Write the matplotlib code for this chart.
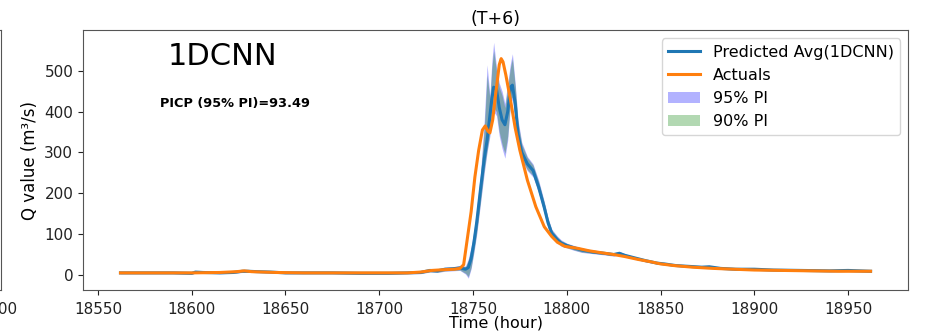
import matplotlib
matplotlib.use("Agg")
import matplotlib.pyplot as plt

# ---------------- data ----------------
act_t = [18562, 18580, 18600, 18615, 18624, 18628, 18632, 18645, 18660, 18680,
         18700, 18715, 18722, 18728, 18735, 18740, 18743, 18745, 18747, 18749,
         18751, 18753, 18755, 18756.5, 18758, 18759, 18760.5, 18762, 18764, 18765,
         18766, 18767.5, 18770, 18772.5, 18775, 18779, 18783.5, 18788, 18792, 18795,
         18799, 18806, 18812, 18819, 18825, 18831, 18838, 18845, 18850, 18857,
         18867, 18878, 18889, 18900, 18915, 18930, 18945, 18962]
act_v = [5, 5, 5, 6, 8, 10, 8, 6, 5, 5,
         5, 5, 7, 11, 13, 14, 16, 25, 90, 155,
         240, 305, 355, 365, 352, 348, 380, 440, 515, 530,
         522, 490, 428, 360, 305, 232, 167, 118, 94, 80,
         70, 65, 59, 54, 50, 45, 38, 32, 27, 23,
         19, 16, 14, 12, 11, 10, 9, 9]

pred_t = [18562, 18575, 18590, 18600, 18602, 18606, 18615, 18622, 18627, 18630,
          18635, 18642, 18650, 18660, 18675, 18690, 18705, 18715, 18722, 18727,
          18731, 18735, 18739, 18743, 18746, 18747.5, 18749, 18750.5, 18752, 18754,
          18756, 18757.5, 18759, 18760, 18761, 18762.5, 18764, 18765.5, 18767, 18768.5,
          18770, 18771, 18772.5, 18774, 18776, 18779, 18782, 18785, 18788, 18790,
          18792, 18795, 18797, 18800, 18804, 18808, 18814, 18820, 18825, 18828,
          18831, 18836, 18842, 18848, 18852, 18858, 18865, 18872, 18876, 18882,
          18890, 18900, 18910, 18925, 18940, 18950, 18962]
pred_v = [5, 5, 5, 4, 7, 6, 5, 6, 9, 9,
          8, 7, 5, 5, 5, 4, 4, 5, 6, 11,
          10, 14, 15, 17, 14, 18, 40, 80, 130, 210,
          285, 330, 390, 430, 460, 455, 410, 380, 368, 400,
          460, 465, 420, 345, 300, 272, 256, 215, 165, 128,
          102, 86, 78, 72, 66, 61, 56, 53, 50, 53,
          48, 42, 35, 29, 27, 23, 21, 19, 20, 16,
          14, 14, 12, 11, 10, 11, 9]
lo95 = [3, 3, 3, 2, 4, 4, 3, 4, 6, 6,
        6, 5, 3, 3, 3, 2, 2, 3, 3, 7,
        6, 9, 10, 11, 2, -8, 15, 55, 100, 175,
        250, 300, 340, 390, 400, 390, 340, 310, 286, 330,
        420, 430, 380, 310, 280, 255, 240, 200, 150, 115,
        92, 78, 70, 66, 60, 55, 52, 49, 46, 49,
        44, 39, 32, 27, 25, 21, 19, 17, 17, 14,
        12, 11, 10, 9, 8, 8, 7]
hi95 = [7, 7, 7, 6, 10, 8, 7, 8, 12, 12,
        10, 9, 7, 7, 7, 6, 6, 7, 9, 15,
        14, 19, 20, 23, 22, 40, 70, 110, 165, 250,
        380, 515, 440, 520, 570, 510, 470, 450, 420, 470,
        520, 542, 470, 380, 325, 290, 272, 232, 180, 140,
        112, 95, 86, 78, 72, 66, 60, 57, 54, 58,
        52, 45, 38, 31, 29, 25, 23, 21, 23, 18,
        16, 17, 14, 13, 12, 13, 11]
lo90 = [3.5, 3.5, 3.5, 2.5, 4.5, 4.5, 3.5, 4.5, 6.5, 6.5,
        6.5, 5.5, 3.5, 3.5, 3.5, 2.5, 2.5, 3.5, 3.5, 7.5,
        6.5, 10, 11, 12, 4, -4, 19, 60, 105, 180,
        258, 305, 348, 398, 410, 400, 350, 320, 298, 340,
        428, 436, 386, 315, 283, 258, 243, 203, 153, 117,
        94, 80, 72, 67, 61, 56, 53, 50, 47, 50,
        45, 40, 33, 27.5, 25.5, 21.5, 19.5, 17.5, 17.5, 14.5,
        12.5, 11.5, 10.5, 9.5, 8.5, 8.5, 7.5]
hi90 = [6.5, 6.5, 6.5, 5.5, 9.5, 7.5, 6.5, 7.5, 11.5, 11.5,
        9.5, 8.5, 6.5, 6.5, 6.5, 5.5, 5.5, 6.5, 8.5, 14,
        13, 18, 19, 22, 20, 35, 64, 104, 158, 242,
        360, 490, 432, 505, 550, 500, 460, 440, 410, 460,
        510, 530, 462, 374, 320, 287, 269, 228, 177, 138,
        110, 93, 84, 77, 71, 65, 59, 56, 53, 57,
        51, 44, 37, 30.5, 28.5, 24.5, 22.5, 20.5, 22, 17.5,
        15.5, 16, 13.5, 12.5, 11.5, 12.5, 10.5]

title_txt = "(T+6)"
model_name = "1DCNN"
picp_txt = "PICP (95% PI)=93.49"
x_label = "Time (hour)"
y_label = "Q value (m\u00b3/s)"

# ---------------- figure ----------------
plt.rcParams['font.family'] = ['DejaVu Sans']
fig = plt.figure(figsize=(9.25, 3.31), dpi=100)

# fragment of the neighbouring panel on the left edge
ax0 = fig.add_axes([-0.5, 0.1239, 0.5015, 0.784])
ax0.set_xlim(18254.3, 18504.3)
ax0.set_xticks([18500])
ax0.set_yticks([])
ax0.tick_params(axis='x', labelsize=11, colors='#222222', pad=5)
for s in ax0.spines.values():
    s.set_color('#555555')

ax = fig.add_axes([0.0897, 0.1239, 0.892, 0.784])
f95 = ax.fill_between(pred_t, lo95, hi95, color='blue', alpha=0.3, linewidth=0, label='95% PI')
f90 = ax.fill_between(pred_t, lo90, hi90, color='green', alpha=0.3, linewidth=0, label='90% PI')
lp, = ax.plot(pred_t, pred_v, color='#1f77b4', lw=2.2, label='Predicted Avg(1DCNN)')
la, = ax.plot(act_t, act_v, color='#ff7f0e', lw=2.2, label='Actuals')

ax.set_xticks([18550, 18600, 18650, 18700, 18750, 18800, 18850, 18900, 18950])
ax.set_yticks([0, 100, 200, 300, 400, 500])
ax.tick_params(labelsize=11, colors='#222222')
ax.tick_params(axis='x', pad=5)
for s in ax.spines.values():
    s.set_color('#555555')

ax.set_title(title_txt, fontsize=12.5, pad=5)
ax.set_xlabel(x_label, fontsize=11.5, labelpad=-1)
ax.set_ylabel(y_label, fontsize=12, labelpad=4)

ax.text(0.103, 0.955, model_name, transform=ax.transAxes, fontsize=22,
        va='top', ha='left')
ax.text(0.093, 0.72, picp_txt, transform=ax.transAxes, fontsize=9.3,
        fontweight='bold', va='center', ha='left')

ax.legend(handles=[lp, la, f95, f90], loc='upper right', fontsize=11.5)

fig.savefig('out.png', dpi=100)
